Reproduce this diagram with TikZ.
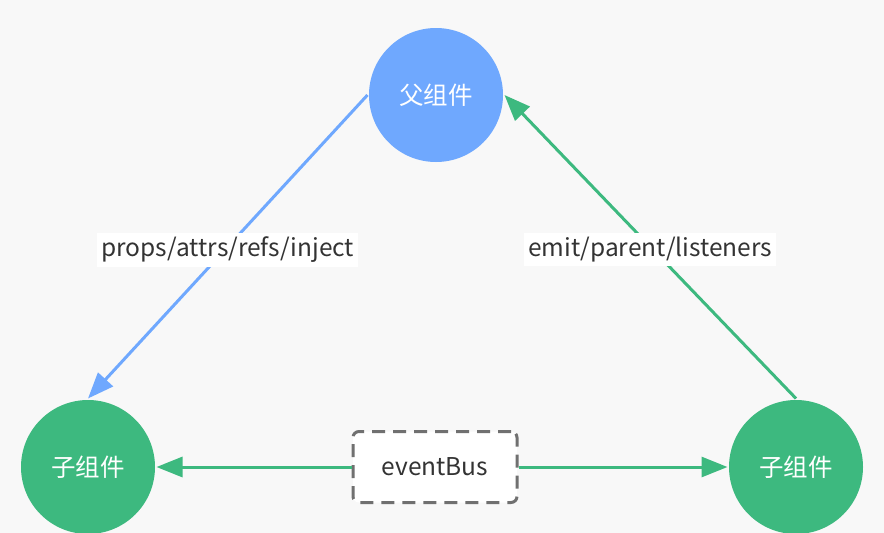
\documentclass[tikz,border=0pt]{standalone}
\usepackage{fontspec}
\setmainfont{Noto Sans CJK SC}
\usepackage{tikz}
\usetikzlibrary{arrows.meta}

\definecolor{compblue}{HTML}{6FA8FE}
\definecolor{compgreen}{HTML}{3DB97F}
\definecolor{bgcol}{HTML}{F8F8F8}
\definecolor{txtcol}{HTML}{333333}
\definecolor{dashcol}{HTML}{707070}

\begin{document}
\begin{tikzpicture}[x=1pt, y=-1pt, line width=3pt,
       > = {Triangle[length=26pt,width=20pt]}]

\tikzstyle{comp} = [circle, minimum size=134pt, inner sep=0pt, text=white, font=\fontsize{24.5}{28}\selectfont]
\tikzstyle{bus} = [draw=dashcol, fill=white, dash pattern=on 13pt off 8pt, rounded corners=6pt,
                   minimum width=164pt, minimum height=71pt, text=txtcol, font=\fontsize{24.5}{28}\selectfont]
\tikzstyle{lbl} = [fill=white, text=txtcol, inner sep=4pt, yshift=-3pt, font=\fontsize{24.5}{28}\selectfont]

% background
\fill[bgcol] (0,0) rectangle (884,533);
\useasboundingbox (0,0) rectangle (884,533);

% components
\node[comp, fill=compblue] (parent) at (436,95) {父组件};
\node[comp, fill=compgreen] (childL) at (88,467) {子组件};
\node[comp, fill=compgreen] (childR) at (796,467) {子组件};
\node[bus] (bus) at (435,467) {eventBus};

% parent <-> child
\draw[->, compblue] (parent.west) -- node[lbl] {props/attrs/refs/inject} (childL.north);
\draw[->, compgreen] (childR.north) -- node[lbl] {emit/parent/listeners} (parent.east);

% eventBus to both children
\foreach \side/\child in {west/childL, east/childR}
    \draw[->, compgreen] (bus.\side) -- (\child);

\end{tikzpicture}
\end{document}
